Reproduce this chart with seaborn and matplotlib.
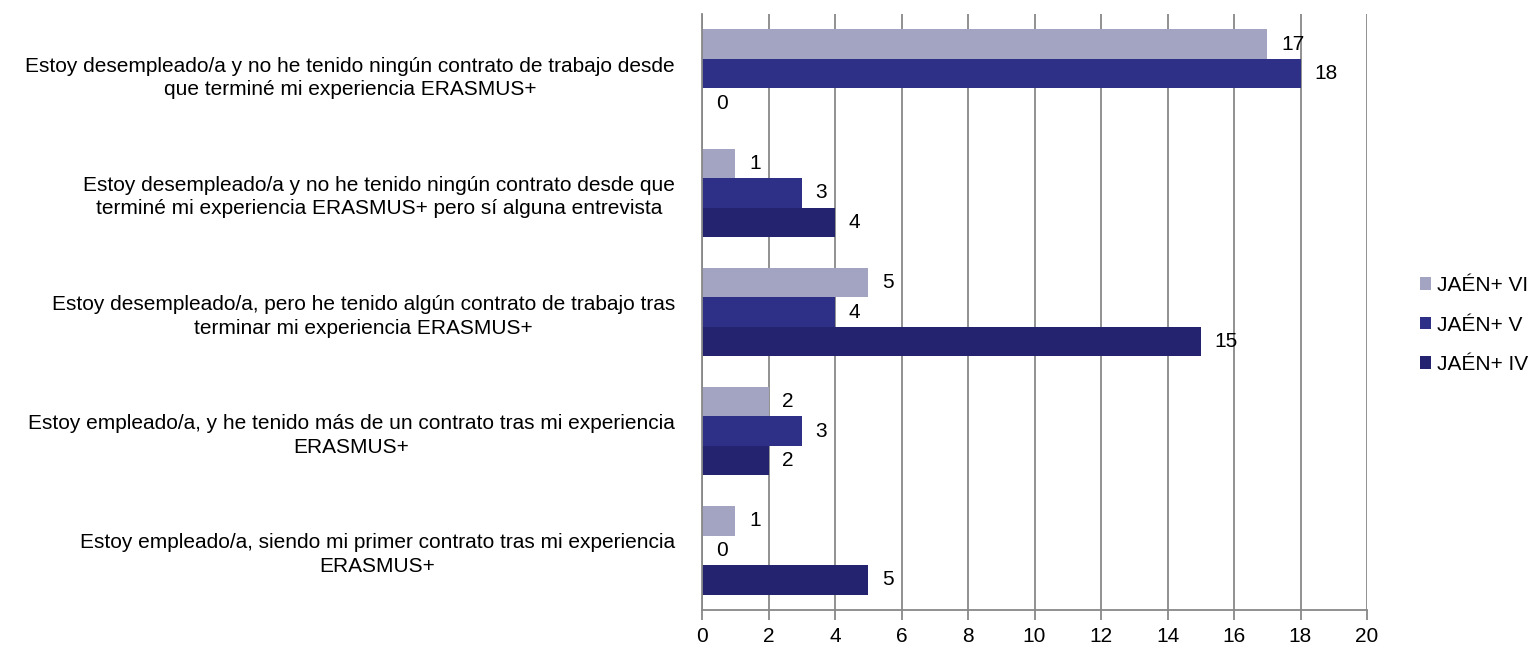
import matplotlib
matplotlib.use('Agg')
import matplotlib.pyplot as plt
import seaborn as sns
import pandas as pd

categories = [
    'Estoy desempleado/a y no he tenido ningún contrato de trabajo desde\nque terminé mi experiencia ERASMUS+',
    'Estoy desempleado/a y no he tenido ningún contrato desde que\nterminé mi experiencia ERASMUS+ pero sí alguna entrevista',
    'Estoy desempleado/a, pero he tenido algún contrato de trabajo tras\nterminar mi experiencia ERASMUS+',
    'Estoy empleado/a, y he tenido más de un contrato tras mi experiencia\nERASMUS+',
    'Estoy empleado/a, siendo mi primer contrato tras mi experiencia\nERASMUS+',
]
series_names = ['JAÉN+ VI', 'JAÉN+ V', 'JAÉN+ IV']
jaen_vi = [17, 1, 5, 2, 1]
jaen_v = [18, 3, 4, 3, 0]
jaen_iv = [0, 4, 15, 2, 5]
colors = ['#A3A3C2', '#2E3087', '#232370']

df = pd.DataFrame({
    'Categoría': categories * 3,
    'Serie': [s for s in series_names for _ in categories],
    'Valor': jaen_vi + jaen_v + jaen_iv,
})

sns.set_style('white')
plt.rcParams['font.family'] = ['Liberation Sans', 'DejaVu Sans']
plt.rcParams['text.color'] = 'black'
plt.rcParams['xtick.color'] = 'black'
plt.rcParams['ytick.color'] = 'black'

FS = 15

fig, ax = plt.subplots(figsize=(15.32, 6.45), dpi=100)
fig.subplots_adjust(left=702 / 1532, right=1367 / 1532, top=1 - 14 / 645, bottom=35 / 645)

sns.barplot(data=df, y='Categoría', x='Valor', hue='Serie', order=categories,
            hue_order=series_names, palette=colors, orient='h', width=0.74,
            saturation=1, errorbar=None, linewidth=0, ax=ax)

for cont in ax.containers:
    ax.bar_label(cont, fmt='%d', padding=10, fontsize=FS, color='black')

ax.set_xlim(0, 20)
ax.set_xticks(range(0, 21, 2))
ax.set_ylim(len(categories) - 0.5, -0.5)
ax.grid(axis='x', color='#888888', linewidth=1.3)
ax.set_axisbelow(True)
ax.set_xlabel('')
ax.set_ylabel('')

for side in ['top', 'right']:
    ax.spines[side].set_visible(False)
for side in ['left', 'bottom']:
    ax.spines[side].set_color('#888888')
    ax.spines[side].set_linewidth(1.3)

ax.tick_params(axis='x', length=7, width=1.3, color='#888888', labelcolor='black',
               labelsize=FS, pad=5, direction='out', bottom=True)
ax.tick_params(axis='y', length=0, labelsize=FS, labelcolor='black', pad=19.5)
for lbl in ax.get_yticklabels():
    lbl.set_multialignment('center')
    lbl.set_linespacing(1.3)

ax.legend(title=None, frameon=False, loc='center left',
          bbox_to_anchor=(1420 / 1532, 1 - 325 / 645), bbox_transform=fig.transFigure,
          borderpad=0, borderaxespad=0, fontsize=FS, handlelength=0.55, handleheight=0.55,
          handletextpad=0.25, labelspacing=0.98)

fig.savefig('out.png', dpi=100)
